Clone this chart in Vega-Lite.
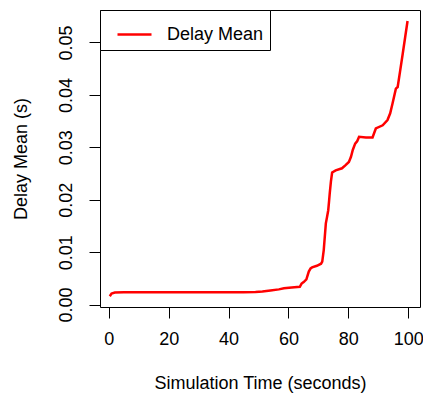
{
  "$schema": "https://vega.github.io/schema/vega-lite/v6.json",
  "width": 320,
  "height": 297,
  "autosize": "none",
  "padding": {"left": 100, "top": 10, "right": 3, "bottom": 93},
  "background": "white",
  "config": {
    "font": "Liberation Sans",
    "view": {"stroke": "black", "strokeWidth": 1},
    "axis": {
      "domain": false,
      "grid": false,
      "tickColor": "black",
      "tickSize": 11,
      "tickWidth": 1,
      "labelFont": "Liberation Sans",
      "labelFontSize": 18,
      "labelColor": "black",
      "titleFont": "Liberation Sans",
      "titleFontSize": 18,
      "titleFontWeight": "normal",
      "titleColor": "black"
    },
    "legend": {
      "orient": "top-left",
      "offset": 0,
      "strokeColor": "black",
      "fillColor": "white",
      "padding": 6,
      "symbolType": "stroke",
      "symbolStrokeWidth": 2.5,
      "symbolSize": 1156,
      "symbolOffset": 10,
      "labelOffset": 14,
      "labelFont": "Liberation Sans",
      "labelFontSize": 18,
      "labelColor": "black",
      "cornerRadius": 0
    }
  },
  "data": {
    "values": [
      {"t": 0.3, "v": 0.0016},
      {"t": 0.9, "v": 0.0021},
      {"t": 2, "v": 0.0023},
      {"t": 5, "v": 0.00235},
      {"t": 10, "v": 0.00235},
      {"t": 20, "v": 0.00235},
      {"t": 30, "v": 0.00235},
      {"t": 40, "v": 0.00235},
      {"t": 45, "v": 0.00235},
      {"t": 49, "v": 0.0024},
      {"t": 51.3, "v": 0.0025},
      {"t": 54, "v": 0.0027},
      {"t": 56.8, "v": 0.0029},
      {"t": 58.5, "v": 0.0031},
      {"t": 60.2, "v": 0.0032},
      {"t": 62, "v": 0.0033},
      {"t": 63.8, "v": 0.0034},
      {"t": 64.4, "v": 0.004},
      {"t": 65.1, "v": 0.0043},
      {"t": 66, "v": 0.0048},
      {"t": 66.8, "v": 0.0063},
      {"t": 67.4, "v": 0.0069},
      {"t": 67.9, "v": 0.0071},
      {"t": 69.5, "v": 0.0074},
      {"t": 70.9, "v": 0.0078},
      {"t": 71.3, "v": 0.0082},
      {"t": 71.8, "v": 0.0104},
      {"t": 72.5, "v": 0.0155},
      {"t": 72.9, "v": 0.0167},
      {"t": 73.3, "v": 0.018},
      {"t": 73.6, "v": 0.0199},
      {"t": 73.8, "v": 0.0212},
      {"t": 74.2, "v": 0.0235},
      {"t": 74.6, "v": 0.0252},
      {"t": 75.8, "v": 0.0256},
      {"t": 77.9, "v": 0.026},
      {"t": 79.1, "v": 0.0266},
      {"t": 80.2, "v": 0.0272},
      {"t": 80.9, "v": 0.0282},
      {"t": 81.5, "v": 0.0295},
      {"t": 82.3, "v": 0.0307},
      {"t": 83.0, "v": 0.0312},
      {"t": 83.6, "v": 0.032},
      {"t": 85.9, "v": 0.0319},
      {"t": 88.1, "v": 0.0319},
      {"t": 89.2, "v": 0.0336},
      {"t": 91.5, "v": 0.0342},
      {"t": 93.1, "v": 0.0352},
      {"t": 94.0, "v": 0.0365},
      {"t": 94.8, "v": 0.0384},
      {"t": 95.9, "v": 0.0412},
      {"t": 96.5, "v": 0.0415},
      {"t": 97.3, "v": 0.0445},
      {"t": 98.2, "v": 0.0479},
      {"t": 99.0, "v": 0.051},
      {"t": 99.8, "v": 0.0541}
    ]
  },
  "mark": {"type": "line", "strokeWidth": 2.5, "clip": true},
  "encoding": {
    "x": {
      "field": "t",
      "type": "quantitative",
      "scale": {"domain": [-2.96, 103.96], "nice": false, "zero": false},
      "axis": {
        "title": "Simulation Time (seconds)",
        "values": [0, 20, 40, 60, 80, 100],
        "labelPadding": 12,
        "titlePadding": 26
      }
    },
    "y": {
      "field": "v",
      "type": "quantitative",
      "scale": {"domain": [-0.00046, 0.0562], "nice": false, "zero": false},
      "axis": {
        "title": "Delay Mean (s)",
        "values": [0, 0.01, 0.02, 0.03, 0.04, 0.05],
        "format": ".2f",
        "labelAngle": 270,
        "labelAlign": "center",
        "labelBaseline": "bottom",
        "labelPadding": 14,
        "titlePadding": 27
      }
    },
    "color": {
      "datum": "Delay Mean",
      "type": "nominal",
      "scale": {"range": ["#FF0000"]},
      "legend": {"title": null}
    }
  }
}
